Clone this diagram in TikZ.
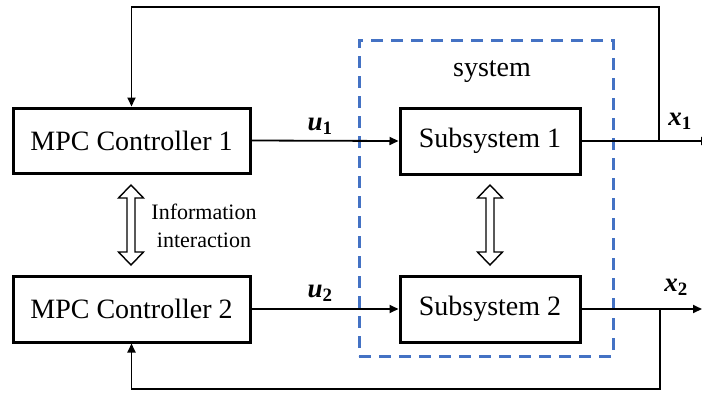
\documentclass[tikz,border=0pt]{standalone}
\usepackage{fontspec}
\setmainfont{Liberation Serif}
\usetikzlibrary{arrows.meta}
\begin{document}
\begin{tikzpicture}[x=1pt,y=-1pt,
  blk/.style={draw,line width=3pt,inner sep=0pt,font=\fontsize{28}{32}\selectfont},
  conn/.style={line width=1.8pt,-{Triangle[length=9pt,width=8pt]}},
  dbl/.style={draw,line width=1.4pt,fill=white,line join=miter},
  lbl/.style={font=\fontsize{27}{30}\selectfont\bfseries\itshape,inner sep=0pt}]
\definecolor{sysblue}{RGB}{68,114,196}
\useasboundingbox (0,0) rectangle (702,392);
% system box
\node[draw=sysblue,line width=3pt,dash pattern=on 12pt off 8pt,minimum width=254pt,minimum height=316pt,inner sep=0pt] (sys) at (486,198) {};
\node[font=\fontsize{28}{32}\selectfont,inner sep=0pt] (systxt) at (492,72) {system};
% blocks
\node[blk,minimum width=237pt,minimum height=65pt] (c1) at (131.5,140.5) {MPC Controller 1};
\node[blk,minimum width=237pt,minimum height=66pt] (c2) at (131.5,309) {MPC Controller 2};
\node[blk,minimum width=180pt,minimum height=66pt] (s1) at (490,141) {Subsystem 1};
\node[blk,minimum width=180pt,minimum height=66pt] (s2) at (490,309) {Subsystem 2};
% labels
\node[lbl] (u1) at (320,126) {u\textsubscript{\upshape 1}};
\node[lbl] (u2) at (320,293) {u\textsubscript{\upshape 2}};
\node[lbl] (x1) at (680,121) {x\textsubscript{\upshape 1}};
\node[lbl] (x2) at (676,287) {x\textsubscript{\upshape 2}};
\node[font=\fontsize{22}{28}\selectfont,align=center,inner sep=0pt] (info) at (204,226) {Information\\interaction};
% coordinates
\coordinate (b1) at (659,141);
\coordinate (o1) at (710,141);
\coordinate (t1) at (131.5,7);
\coordinate (b2) at (660,309);
\coordinate (o2) at (702,309);
\coordinate (t2) at (131.5,389);
% connectors
\draw[conn] (c1.east) -- (s1.west);
\draw[conn] (c2.east) -- (s2.west);
\draw[conn] (s1.east) -- (o1);
\draw[conn] (s2.east) -- (o2);
\draw[conn] (b1) |- (t1) -- (c1.north);
\draw[conn] (b2) |- (t2) -- (c2.south);
% double arrows
\coordinate (d1) at (131,185);
\coordinate (d2) at (490,185);
\draw[dbl] (d1) -- ++(12.5,13) -- ++(-8.5,0) -- ++(0,54) -- ++(8.5,0) -- ++(-12.5,13) -- ++(-12.5,-13) -- ++(8.5,0) -- ++(0,-54) -- ++(-8.5,0) -- cycle;
\draw[dbl] (d2) -- ++(12.5,13) -- ++(-8.5,0) -- ++(0,54) -- ++(8.5,0) -- ++(-12.5,13) -- ++(-12.5,-13) -- ++(8.5,0) -- ++(0,-54) -- ++(-8.5,0) -- cycle;
\end{tikzpicture}
\end{document}
